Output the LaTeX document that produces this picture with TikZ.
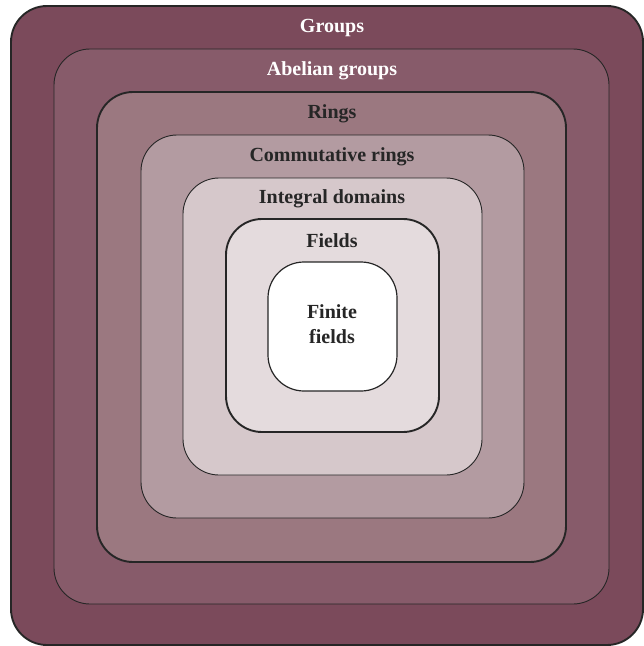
\documentclass[tikz,border=0pt]{standalone}
\usepackage{fontspec}
\setmainfont{Liberation Serif}
\usepackage{tikz}

\definecolor{groupsc}{HTML}{7B4A5B}
\definecolor{abelianc}{HTML}{875B6A}
\definecolor{ringsc}{HTML}{9B7880}
\definecolor{commc}{HTML}{B39BA1}
\definecolor{domainc}{HTML}{D6C8CB}
\definecolor{fieldsc}{HTML}{E4DBDD}

\tikzset{
  level/.style={draw=black!85, rounded corners=36pt, line width=0.9pt},
  thicklevel/.style={level, line width=1.9pt},
  lbl/.style={font=\fontsize{20}{25}\selectfont\bfseries, text=black!85, inner sep=0pt, align=center}
}

\begin{document}
\begin{tikzpicture}[x=1pt,y=-1pt]
			\useasboundingbox (0,0) rectangle (644,646);

			\draw[thicklevel, fill=groupsc] (11,6) rectangle (643,645);
			\draw[level, fill=abelianc] (54,49) rectangle (609,604);
			\draw[thicklevel, fill=ringsc] (97,92) rectangle (566,562);
			\draw[level, fill=commc] (141,135) rectangle (524,518);
			\draw[level, fill=domainc] (183,178) rectangle (482,475);
			\draw[thicklevel, fill=fieldsc] (226,219) rectangle (439,432);
			\draw[level, line width=1.2pt, fill=white] (268,262) rectangle (397,391);

			\node[lbl, text=white] (groups) at (332,28) {Groups};
			\node[lbl, text=white] (abelian) at (332,71) {Abelian groups};
			\node[lbl] (rings) at (332,114) {Rings};
			\node[lbl] (comm) at (332,157) {Commutative rings};
			\node[lbl] (domains) at (332,199) {Integral domains};
			\node[lbl] (fields) at (332,241) {Fields};
			\node[lbl] (finite) at (332,324) {Finite\\fields};

\end{tikzpicture}
\end{document}
